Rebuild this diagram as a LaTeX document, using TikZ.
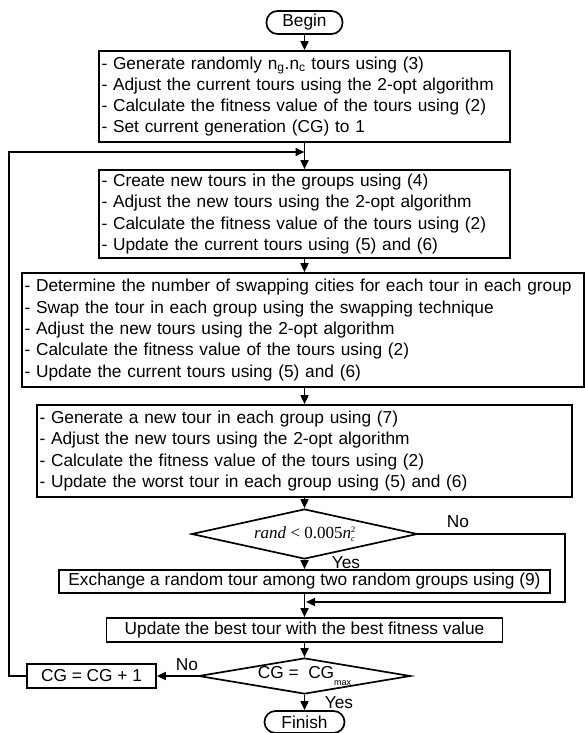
\documentclass[tikz,border=0pt]{standalone}
\usepackage{fontspec}
\setmainfont{Liberation Sans}
\newfontfamily\tnr{Liberation Serif}
\usetikzlibrary{arrows.meta,shapes.geometric}
\begin{document}
\begin{tikzpicture}[x=1pt,y=-1pt,
  every node/.style={font=\fontsize{17.3}{21.3}\selectfont},
  box/.style={draw, line width=1.7pt, inner xsep=2.5pt, inner ysep=0pt, align=left},
  cbox/.style={draw, line width=1.7pt, inner sep=0pt, align=center},
  term/.style={draw, line width=1.7pt, rounded corners=11pt, inner sep=0pt},
  dia/.style={draw, diamond, line width=1.7pt, inner sep=0pt},
  arr/.style={line width=1.7pt, -{Triangle[length=9pt,width=8pt]}},
  lab/.style={inner sep=0pt}
]
\useasboundingbox (0,0) rectangle (585,733);

\node[term, minimum width=76, minimum height=23] (begin) at (304.5,22.5) {Begin};
\node[box, minimum width=411, minimum height=91, text width=406] (b1) at (304.5,96.5)
  {- Generate randomly n\textsubscript{g}.n\textsubscript{c} tours using (3)\\- Adjust the current tours using the 2-opt algorithm\\- Calculate the fitness value of the tours using (2)\\- Set current generation (CG) to 1};
\node[box, minimum width=411, minimum height=88, text width=406] (b2) at (304.5,214)
  {- Create new tours in the groups using (4)\\- Adjust the new tours using the 2-opt algorithm\\- Calculate the fitness value of the tours using (2)\\- Update the current tours using (5) and (6)};
\node[box, minimum width=562, minimum height=114, text width=557] (b3) at (303,330)
  {- Determine the number of swapping cities for each tour in each group\\- Swap the tour in each group using the swapping technique\\- Adjust the new tours using the 2-opt algorithm\\- Calculate the fitness value of the tours using (2)\\- Update the current tours using (5) and (6)};
\node[box, minimum width=535, minimum height=92, text width=530] (b4) at (304.5,451)
  {- Generate a new tour in each group using (7)\\- Adjust the new tours using the 2-opt algorithm\\- Calculate the fitness value of the tours using (2)\\- Update the worst tour in each group using (5) and (6)};
\node[dia, minimum width=226, minimum height=50,
  label={[inner sep=0pt]center:{\tnr\fontsize{17}{17}\selectfont\textit{rand} {<} 0.005\textit{n}\makebox[0pt][l]{\raisebox{0.75ex}{\fontsize{8.5}{8.5}\selectfont 2}}\raisebox{-0.45ex}{\fontsize{8.5}{8.5}\selectfont\textit{c}}}}] (d1) at (304.5,534) {};
\node[cbox, minimum width=491, minimum height=23] (ex) at (304.5,581.5)
  {Exchange a random tour among two random groups using (9)};
\node[cbox, minimum width=396, minimum height=24] (up) at (304.5,630)
  {Update the best tour with the best fitness value};
\node[dia, minimum width=212, minimum height=36,
  label={[inner sep=0pt]center:{CG =\ \ CG\raisebox{-0.7ex}{\fontsize{9}{9}\selectfont max}}}] (d2) at (304.5,676) {};
\node[cbox, minimum width=129, minimum height=24] (cg) at (91.5,676) {CG = CG + 1};
\node[term, minimum width=80, minimum height=22] (fin) at (304.5,722) {Finish};

\node[lab] (no1) at (458,522) {No};
\node[lab] (yes1) at (346,563) {Yes};
\node[lab] (no2) at (187,665) {No};
\node[lab] (yes2) at (339,703) {Yes};

\coordinate (j1) at (304.5,152);
\coordinate (lp) at (9,676);
\coordinate (nr) at (565,534);
\coordinate (j2) at (306,602);

\draw[arr] (begin.south) -- (begin.south |- b1.north);
\draw[arr] (b1.south) -- (b1.south |- b2.north);
\draw[arr] (b2.south) -- (b2.south |- b3.north);
\draw[arr] (b2.south |- b3.south) -- (b2.south |- b4.north);
\draw[arr] (b4.south) -- (d1.north);
\draw[arr] (d1.south) -- (ex.north);
\draw[arr] (ex.south) -- (up.north);
\draw[arr] (up.south) -- (d2.north);
\draw[arr] (d2.west) -- (cg.east);
\draw[arr] (d2.south) -- (fin.north);
\draw[arr] (cg.west) -- (lp) |- (j1);
\draw[arr] (d1.east) -- (nr) |- (j2);
\end{tikzpicture}
\end{document}
